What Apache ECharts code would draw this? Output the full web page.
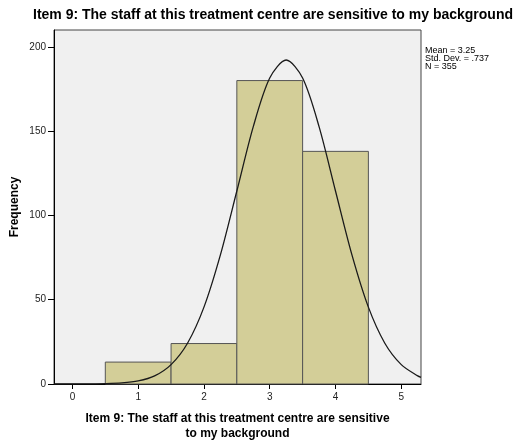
<!DOCTYPE html>
<html><head><meta charset="utf-8">
<script src="https://cdn.jsdelivr.net/npm/echarts@6/dist/echarts.min.js"></script>
<style>html,body{margin:0;padding:0;background:#fff}#c{width:527px;height:441px}</style>
</head><body><div id="c"></div>
<script>
const chartTitle = 'Item 9: The staff at this treatment centre are sensitive to my background';
const xAxisTitle = 'Item 9: The staff at this treatment centre are sensitive\nto my background';
const yAxisTitle = 'Frequency';
const binCenters = [1, 2, 3, 4];
const binCounts = [13, 24, 180, 138];
const binWidth = 1;
const curveX = [-0.28, -0.25, 0, 0.25, 0.5, 0.75, 1, 1.25, 1.5, 1.75, 2, 2.25, 2.5, 2.75, 3, 3.25, 3.5, 3.75, 4, 4.25, 4.5, 4.75, 5, 5.25, 5.3];
const curveY = [0.002, 0.002, 0.012, 0.05, 0.18, 0.61, 1.8, 4.8, 11.5, 24.2, 45.6, 76.6, 114.5, 152.7, 181.5, 192.2, 181.5, 152.7, 114.5, 76.6, 45.6, 24.2, 11.5, 4.8, 4.0];
const xTicks = [0, 1, 2, 3, 4, 5];
const yTicks = [0, 50, 100, 150, 200];
const statsLines = ['Mean = 3.25', 'Std. Dev. = .737', 'N = 355'];

const font = 'Liberation Sans, Arial, sans-serif';
const chart = echarts.init(document.getElementById('c'), null, {renderer: 'canvas'});
chart.setOption({
  animation: false,
  backgroundColor: '#ffffff',
  textStyle: {fontFamily: font},
  grid: {left: 54, right: 106, top: 30, bottom: 57, show: true, backgroundColor: '#F0F0F0', borderColor: '#444', borderWidth: 1, containLabel: false, outerBoundsMode: 'none'},
  xAxis: {
    type: 'value', min: -0.28, max: 5.3,
    name: xAxisTitle, nameLocation: 'middle', nameGap: 27, nameMoveOverlap: false,
    nameTextStyle: {fontFamily: font, fontWeight: 'bold', fontSize: 12, color: '#000', lineHeight: 15},
    axisLine: {onZero: false, lineStyle: {color: '#000', width: 1}},
    axisTick: {customValues: xTicks, length: 5, lineStyle: {color: '#000'}},
    axisLabel: {customValues: xTicks, margin: 8, color: '#222', fontSize: 10, fontFamily: font},
    splitLine: {show: false}
  },
  yAxis: {
    type: 'value', min: 0, max: 210,
    name: yAxisTitle, nameLocation: 'middle', nameGap: 33, nameMoveOverlap: false,
    nameTextStyle: {fontFamily: font, fontWeight: 'bold', fontSize: 12, color: '#000'},
    axisLine: {show: true, onZero: false, lineStyle: {color: '#000', width: 1}},
    axisTick: {show: true, customValues: yTicks, length: 6, lineStyle: {color: '#000'}},
    axisLabel: {customValues: yTicks, margin: 8, color: '#222', fontSize: 10, fontFamily: font},
    splitLine: {show: false}
  },
  graphic: [
    {type: 'text', x: 273, y: 8, style: {text: chartTitle, font: 'bold 14px ' + font, fill: '#000', textAlign: 'center'}},
    {type: 'text', x: 425, y: 47, style: {text: statsLines.join('\n'), font: '9px ' + font, fill: '#000', lineHeight: 8}}
  ],
  series: [
    {
      type: 'custom',
      data: binCenters.map((c, i) => [c, binCounts[i]]),
      renderItem: function (params, api) {
        const c = api.value(0), v = api.value(1);
        const p0 = api.coord([c - binWidth / 2, v]);
        const p1 = api.coord([c + binWidth / 2, 0]);
        return {type: 'rect', shape: {x: p0[0], y: p0[1], width: p1[0] - p0[0], height: p1[1] - p0[1]},
          style: {fill: '#D3CE98', stroke: '#555', lineWidth: 1}};
      },
      z: 2
    },
    {
      type: 'line', data: curveX.map((x, i) => [x, curveY[i]]), smooth: 0.3, showSymbol: false,
      lineStyle: {color: '#1a1a1a', width: 1.3}, z: 3
    }
  ]
});
</script></body></html>
